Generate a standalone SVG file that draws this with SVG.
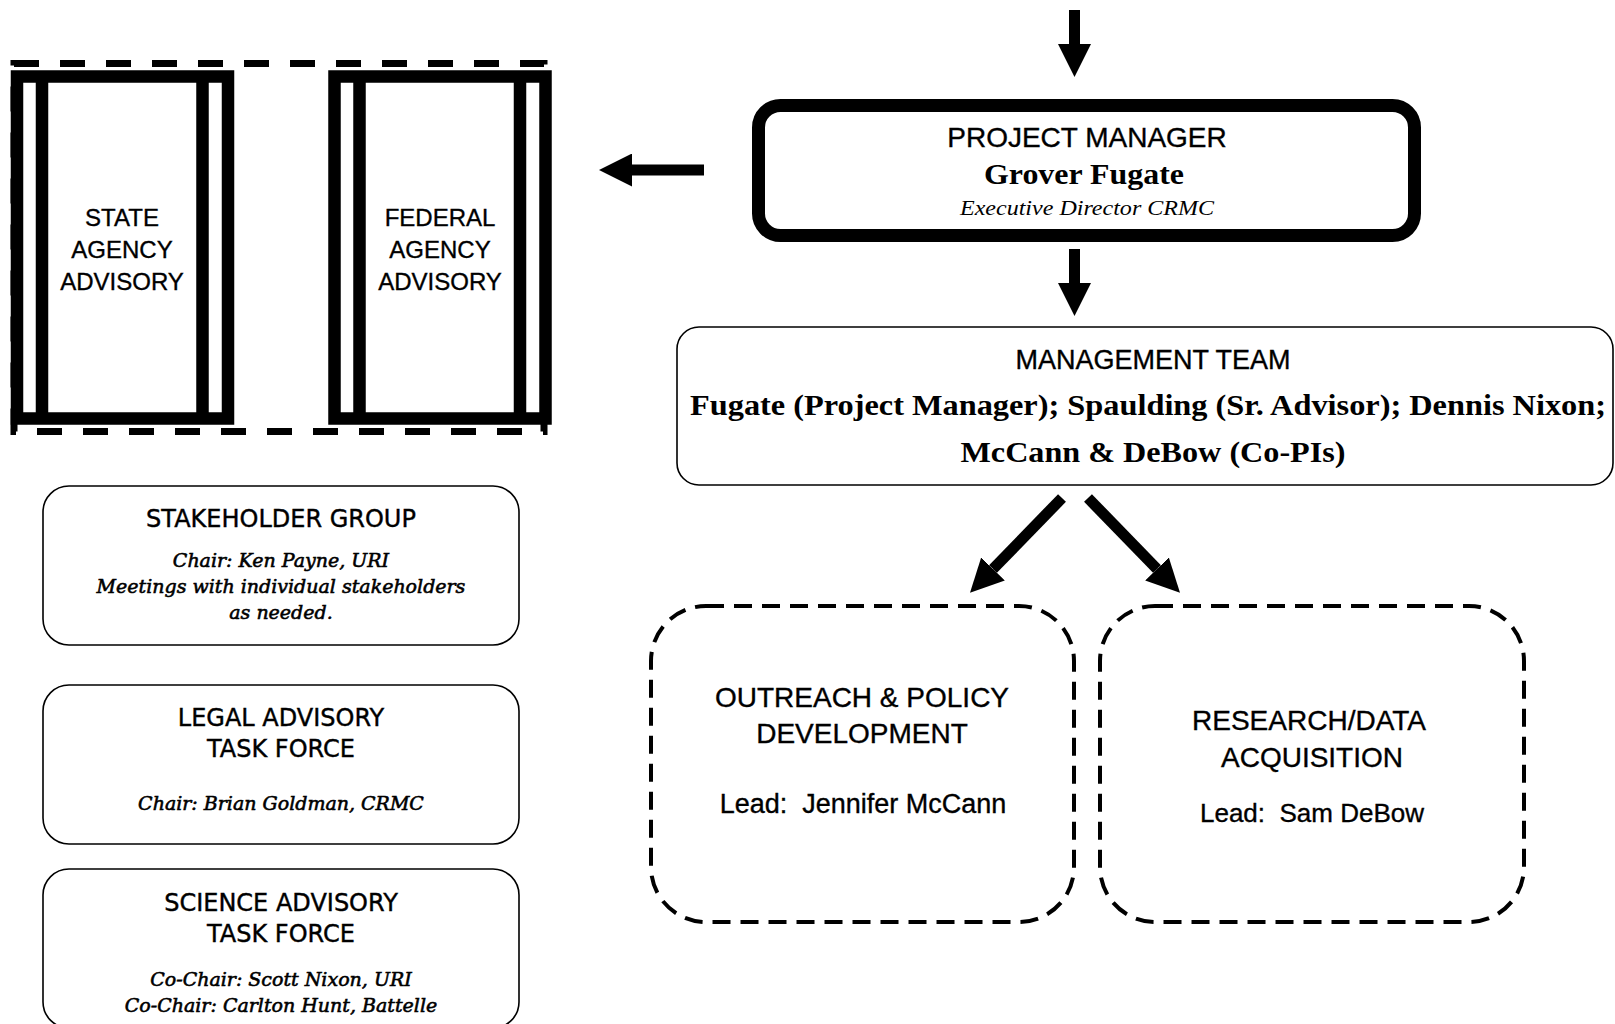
<svg xmlns="http://www.w3.org/2000/svg" width="1615" height="1024" viewBox="0 0 1615 1024">
<defs>
<style>
.bg{fill:#fff}
.frame{fill:#fff;stroke:#000;stroke-width:12.5}
.bar{stroke:#000;stroke-width:12.5}
.thin{fill:#fff;stroke:#000;stroke-width:1.6}
.dash{fill:none;stroke:#000;stroke-width:4;stroke-dasharray:18 10}
.sans{font-family:"Liberation Sans",Arial,sans-serif;fill:#000;stroke:#000;stroke-width:0.35;text-anchor:middle}
.dv{font-family:"DejaVu Sans",sans-serif;font-size:24px;fill:#000;stroke:#000;stroke-width:0.4;text-anchor:middle}
.it{font-family:"DejaVu Serif",serif;font-style:italic;font-size:19px;fill:#000;stroke:#000;stroke-width:0.6;text-anchor:middle}
.sb{font-family:"Liberation Serif","Times New Roman",serif;font-weight:bold;fill:#000;text-anchor:middle}
.si{font-family:"Liberation Serif","Times New Roman",serif;font-style:italic;fill:#000;text-anchor:middle}
.arr{stroke:#000;stroke-width:11;fill:none}
</style>
<marker id="ah" markerWidth="3" markerHeight="3" refX="0" refY="1.5" orient="auto" markerUnits="strokeWidth">
<path d="M0,0 L3,1.5 L0,3 z" fill="#000"/>
</marker>
</defs>
<rect class="bg" x="0" y="0" width="1615" height="1024"/>

<g id="advisory-group">
<rect x="14" y="63.5" width="530" height="368" fill="none" stroke="#000" stroke-width="7" stroke-dasharray="25 21"/>
</g>

<g id="state-agency">
<rect class="frame" x="17" y="76.5" width="211" height="342"/>
<line class="bar" x1="42" y1="76" x2="42" y2="419"/>
<line class="bar" x1="202.5" y1="76" x2="202.5" y2="419"/>
<text class="sans" font-size="24" x="122" y="226">STATE</text>
<text class="sans" font-size="24" x="122" y="258">AGENCY</text>
<text class="sans" font-size="24" x="122" y="290">ADVISORY</text>
</g>

<g id="federal-agency">
<rect class="frame" x="334.5" y="76.5" width="211" height="342"/>
<line class="bar" x1="359.5" y1="76" x2="359.5" y2="419"/>
<line class="bar" x1="520" y1="76" x2="520" y2="419"/>
<text class="sans" font-size="24" x="440" y="226">FEDERAL</text>
<text class="sans" font-size="24" x="440" y="258">AGENCY</text>
<text class="sans" font-size="24" x="440" y="290">ADVISORY</text>
</g>

<g id="project-manager">
<rect x="758.5" y="105.5" width="656" height="130" rx="22" fill="#fff" stroke="#000" stroke-width="13"/>
<text class="sans" font-size="28" x="1087" y="147">PROJECT MANAGER</text>
<text class="sb" font-size="29" x="1084" y="184" textLength="200" lengthAdjust="spacingAndGlyphs">Grover Fugate</text>
<text class="si" font-size="21" x="1087" y="215" textLength="254" lengthAdjust="spacingAndGlyphs">Executive Director CRMC</text>
</g>

<g id="management-team">
<rect class="thin" x="677" y="327" width="936" height="158" rx="22"/>
<text class="sans" font-size="27" x="1153" y="369">MANAGEMENT TEAM</text>
<text class="sb" font-size="29" x="1148" y="415" textLength="916" lengthAdjust="spacingAndGlyphs">Fugate (Project Manager); Spaulding (Sr. Advisor); Dennis Nixon;</text>
<text class="sb" font-size="29" x="1153" y="462" textLength="385" lengthAdjust="spacingAndGlyphs">McCann &amp; DeBow (Co-PIs)</text>
</g>

<g id="outreach-policy">
<rect class="dash" x="651" y="606" width="423" height="316" rx="55"/>
<text class="sans" font-size="28" x="862" y="707">OUTREACH &amp; POLICY</text>
<text class="sans" font-size="28" x="862" y="743">DEVELOPMENT</text>
<text class="sans" font-size="27" x="863" y="813" xml:space="preserve">Lead:  Jennifer McCann</text>
</g>

<g id="research-data">
<rect class="dash" x="1100" y="606" width="424" height="316" rx="55"/>
<text class="sans" font-size="28" x="1309" y="730">RESEARCH/DATA</text>
<text class="sans" font-size="28" x="1312" y="767">ACQUISITION</text>
<text class="sans" font-size="26" x="1312" y="822" xml:space="preserve">Lead:  Sam DeBow</text>
</g>

<g id="stakeholder-group">
<rect class="thin" x="43" y="486" width="476" height="159" rx="26"/>
<text class="dv" x="281" y="527">STAKEHOLDER GROUP</text>
<text class="it" x="281" y="567">Chair: Ken Payne, URI</text>
<text class="it" x="281" y="593">Meetings with individual stakeholders</text>
<text class="it" x="281" y="619">as needed.</text>
</g>

<g id="legal-advisory">
<rect class="thin" x="43" y="685" width="476" height="159" rx="26"/>
<text class="dv" x="281" y="726">LEGAL ADVISORY</text>
<text class="dv" x="281" y="757">TASK FORCE</text>
<text class="it" x="281" y="810">Chair: Brian Goldman, CRMC</text>
</g>

<g id="science-advisory">
<rect class="thin" x="43" y="869" width="476" height="159" rx="26"/>
<text class="dv" x="281" y="911">SCIENCE ADVISORY</text>
<text class="dv" x="281" y="942">TASK FORCE</text>
<text class="it" x="281" y="986">Co-Chair: Scott Nixon, URI</text>
<text class="it" x="281" y="1012">Co-Chair: Carlton Hunt, Battelle</text>
</g>

<g id="connectors">
<line class="arr" x1="1074.5" y1="10" x2="1074.5" y2="44" marker-end="url(#ah)"/>
<line class="arr" x1="704" y1="170" x2="632" y2="170" marker-end="url(#ah)"/>
<line class="arr" x1="1074.5" y1="249" x2="1074.5" y2="283" marker-end="url(#ah)"/>
<line class="arr" x1="1062" y1="498" x2="993" y2="569" marker-end="url(#ah)"/>
<line class="arr" x1="1088" y1="498" x2="1157" y2="569" marker-end="url(#ah)"/>
</g>
</svg>
